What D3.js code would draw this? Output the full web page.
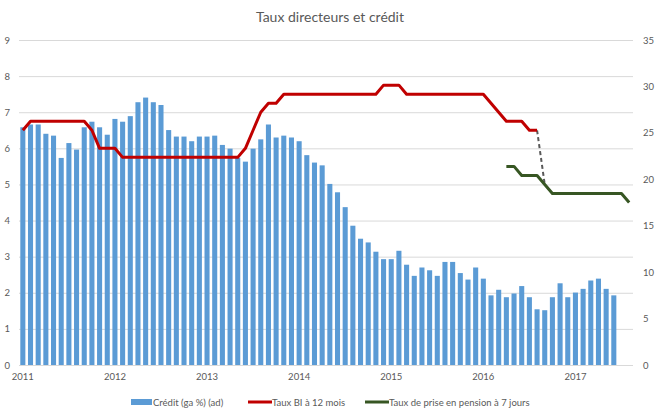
<!DOCTYPE html>
<html>
<head>
<meta charset="utf-8">
<script src="https://cdn.jsdelivr.net/npm/d3@7"></script>
<style>
  body { margin: 0; background: #fff; }
  svg text { font-family: Lato, "Open Sans", sans-serif; fill: #595959; }
</style>
</head>
<body>
<div id="chart"></div>
<script>
// months Jan 2011 .. Aug 2017
var months = [];
for (var yr = 2011; yr <= 2017; yr++) {
  for (var m = 1; m <= 12; m++) {
    if (yr === 2017 && m > 8) break;
    months.push(yr + "-" + (m < 10 ? "0" + m : m));
  }
}

var yearTicks = ["2011-01", "2012-01", "2013-01", "2014-01", "2015-01", "2016-01", "2017-01"];

// Crédit (ga %) - right axis, Jan 2011 .. Jun 2017
var credit = [
  25.6, 25.9, 25.9, 24.9, 24.7, 22.3, 23.9, 23.2, 25.6, 26.2, 25.6, 24.8,
  26.5, 26.2, 26.8, 28.3, 28.8, 28.3, 28.0, 25.3, 24.6, 24.6, 24.1, 24.6,
  24.6, 24.7, 23.7, 23.3, 22.3, 21.9, 23.3, 24.3, 25.9, 24.5, 24.7, 24.5,
  24.1, 22.6, 21.8, 21.5, 19.5, 18.6, 17.0, 15.0, 13.6, 13.2, 12.2, 11.4,
  11.4, 12.3, 10.8, 9.6, 10.5, 10.2, 9.6, 11.1, 11.1, 9.9, 9.2, 10.5,
  9.3, 7.5, 8.1, 7.3, 7.7, 8.5, 7.3, 6.0, 5.9, 7.3, 8.8, 7.3,
  7.8, 8.2, 9.1, 9.3, 8.2, 7.5
];

// Taux BI à 12 mois - left axis
var tauxBI = [
  6.5, 6.75, 6.75, 6.75, 6.75, 6.75, 6.75, 6.75, 6.75, 6.5, 6.0, 6.0,
  6.0, 5.75, 5.75, 5.75, 5.75, 5.75, 5.75, 5.75, 5.75, 5.75, 5.75, 5.75,
  5.75, 5.75, 5.75, 5.75, 5.75, 6.0, 6.5, 7.0, 7.25, 7.25, 7.5, 7.5,
  7.5, 7.5, 7.5, 7.5, 7.5, 7.5, 7.5, 7.5, 7.5, 7.5, 7.5, 7.75,
  7.75, 7.75, 7.5, 7.5, 7.5, 7.5, 7.5, 7.5, 7.5, 7.5, 7.5, 7.5,
  7.5, 7.25, 7.0, 6.75, 6.75, 6.75, 6.5, 6.5
];

// Taux de prise en pension à 7 jours - starts Apr 2016
var pensionStart = "2016-04";
var tauxPension = [5.5, 5.5, 5.25, 5.25, 5.25, 5.0, 4.75, 4.75, 4.75, 4.75, 4.75, 4.75, 4.75, 4.75, 4.75, 4.75, 4.5];

// dashed link between the two policy rates
var linkMonths = ["2016-08", "2016-09"];
var linkValues = [6.5, 5.0];

var leftTicks = [0, 1, 2, 3, 4, 5, 6, 7, 8, 9];
var rightTicks = [0, 5, 10, 15, 20, 25, 30, 35];

var svgWidth = 660;
var svgHeight = 413;
var plot = { left: 19, right: 633, top: 40, bottom: 365 };

var svg = d3.select("#chart")
  .append("svg")
  .attr("width", svgWidth)
  .attr("height", svgHeight);

var x = d3.scaleBand()
  .domain(months)
  .range([plot.left, plot.right])
  .paddingInner(0.34)
  .paddingOuter(0.17);

var yLeft = d3.scaleLinear().domain([0, 9]).range([plot.bottom, plot.top]);
var yRight = d3.scaleLinear().domain([0, 35]).range([plot.bottom, plot.top]);

var cx = function(mo) { return x(mo) + x.bandwidth() / 2; };

// gridlines + left labels
var leftAxis = svg.append("g")
  .attr("transform", `translate(${plot.left}, 0)`)
  .call(d3.axisLeft(yLeft).tickValues(leftTicks).tickSize(-(plot.right - plot.left)).tickPadding(9));
leftAxis.select(".domain").remove();
leftAxis.selectAll("line").attr("stroke", "#d9d9d9");
leftAxis.selectAll("text").attr("font-size", "9.5px").style("font-family", "Lato, sans-serif");

// right labels
var rightAxis = svg.append("g")
  .attr("transform", `translate(${plot.right}, 0)`)
  .call(d3.axisRight(yRight).tickValues(rightTicks).tickSize(0).tickPadding(10));
rightAxis.select(".domain").remove();
rightAxis.selectAll("text").attr("font-size", "9.5px");

// bottom labels
var bottomAxis = svg.append("g")
  .attr("transform", `translate(0, ${plot.bottom})`)
  .call(d3.axisBottom(x).tickValues(yearTicks).tickFormat(d => d.slice(0, 4)).tickSize(0).tickPadding(8));
bottomAxis.select(".domain").remove();
bottomAxis.selectAll("text").attr("font-size", "9.5px");

// bars
svg.append("g").selectAll("rect")
  .data(credit)
  .enter()
  .append("rect")
  .attr("x", (d, i) => x(months[i]))
  .attr("y", d => yRight(d))
  .attr("width", x.bandwidth())
  .attr("height", d => yRight(0) - yRight(d))
  .attr("fill", "#5b9bd5");

// lines
var line = d3.line()
  .x(d => cx(d.month))
  .y(d => yLeft(d.value));

var biData = tauxBI.map((v, i) => ({ month: months[i], value: v }));
var p0 = months.indexOf(pensionStart);
var pensionData = tauxPension.map((v, i) => ({ month: months[p0 + i], value: v }));
var linkData = linkValues.map((v, i) => ({ month: linkMonths[i], value: v }));

svg.append("path")
  .datum(linkData)
  .attr("d", line)
  .attr("fill", "none")
  .attr("stroke", "#595959")
  .attr("stroke-width", 2)
  .attr("stroke-dasharray", "4,3");

svg.append("path")
  .datum(biData)
  .attr("d", line)
  .attr("fill", "none")
  .attr("stroke", "#c00000")
  .attr("stroke-width", 3)
  .attr("stroke-linejoin", "round");

svg.append("path")
  .datum(pensionData)
  .attr("d", line)
  .attr("fill", "none")
  .attr("stroke", "#375623")
  .attr("stroke-width", 3)
  .attr("stroke-linejoin", "round");

// title
svg.append("text")
  .attr("x", 330)
  .attr("y", 22)
  .attr("text-anchor", "middle")
  .attr("font-size", "14px")
  .text("Taux directeurs et crédit");

// legend
var legendItems = [
  { label: "Crédit (ga %) (ad)", color: "#5b9bd5", type: "bar", x: 131 },
  { label: "Taux BI à 12 mois", color: "#c00000", type: "line", x: 248 },
  { label: "Taux de prise en pension à 7 jours", color: "#375623", type: "line", x: 365 }
];
var legendY = 402;
var legend = svg.append("g");
legendItems.forEach(function(item) {
  if (item.type === "bar") {
    legend.append("rect")
      .attr("x", item.x).attr("y", legendY - 3)
      .attr("width", 21).attr("height", 6)
      .attr("fill", item.color);
  } else {
    legend.append("line")
      .attr("x1", item.x).attr("x2", item.x + 24)
      .attr("y1", legendY).attr("y2", legendY)
      .attr("stroke", item.color).attr("stroke-width", 3);
  }
  legend.append("text")
    .attr("x", item.x + (item.type === "bar" ? 22 : 24))
    .attr("y", legendY + 3.5)
    .attr("font-size", "9.5px")
    .text(item.label);
});
</script>
</body>
</html>
